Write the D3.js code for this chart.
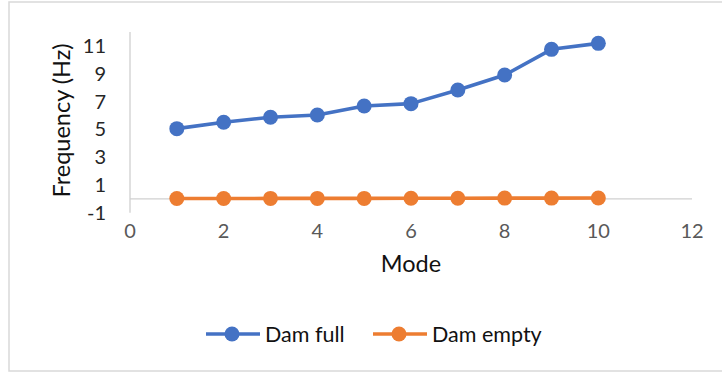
<!DOCTYPE html>
<html>
<head>
<meta charset="utf-8">
<script src="https://cdn.jsdelivr.net/npm/d3@7"></script>
<style>
html,body{margin:0;padding:0;background:#fff;}
svg{display:block;font-family:Lato, "Open Sans", sans-serif;}
</style>
</head>
<body>
<svg id="chart" width="722" height="373"></svg>
<script>
const modes = [1,2,3,4,5,6,7,8,9,10];
const damFull = [5.05,5.51,5.87,6.03,6.68,6.85,7.83,8.91,10.76,11.19];
const damEmpty = [0.02,0.02,0.03,0.03,0.03,0.04,0.04,0.05,0.05,0.06];
const xTicks = [0,2,4,6,8,10,12];
const yTicks = [-1,1,3,5,7,9,11];
const seriesNames = ["Dam full","Dam empty"];
const colors = ["#4472C4","#ED7D31"];

const svg = d3.select("#chart");
const x = d3.scaleLinear().domain([0,12]).range([130,692]);
const y = d3.scaleLinear().domain([-1,12]).range([212.7,32.1]);

// frame
svg.append("rect").attr("x",9).attr("y",2).attr("width",760).attr("height",369)
  .attr("fill","none").attr("stroke","#d9d9d9").attr("stroke-width",1.5);

// axes lines
svg.append("line").attr("x1",x(0)).attr("x2",x(0)).attr("y1",y(12)).attr("y2",y(-1))
  .attr("stroke","#d0d0d0").attr("stroke-width",1.3);
svg.append("line").attr("x1",x(0)).attr("x2",x(12)).attr("y1",y(0)).attr("y2",y(0))
  .attr("stroke","#d0d0d0").attr("stroke-width",1.3);

// y tick labels
svg.append("g").selectAll("text").data(yTicks).join("text")
  .attr("x",106).attr("y",d=>y(d)+7)
  .attr("text-anchor","end").attr("font-size",20).attr("fill","#262626")
  .text(d=>d);

// x tick labels
svg.append("g").selectAll("text").data(xTicks).join("text")
  .attr("x",d=>x(d)).attr("y",238)
  .attr("text-anchor","middle").attr("font-size",20).attr("fill","#595959")
  .text(d=>d);

// axis titles
svg.append("text").attr("x",x(6)).attr("y",272).attr("text-anchor","middle")
  .attr("font-size",23.5).attr("fill","#111").text("Mode");
svg.append("text").attr("transform","translate(69.5,120.5) rotate(-90)")
  .attr("text-anchor","middle").attr("font-size",23.5).attr("fill","#111").text("Frequency (Hz)");

// series
const data = [damFull, damEmpty];
const line = d3.line().x((d,i)=>x(modes[i])).y(d=>y(d));
data.forEach((vals,k)=>{
  svg.append("path").datum(vals).attr("d",line).attr("fill","none")
    .attr("stroke",colors[k]).attr("stroke-width",3.6).attr("stroke-linejoin","round");
  svg.append("g").selectAll("circle").data(vals).join("circle")
    .attr("cx",(d,i)=>x(modes[i])).attr("cy",d=>y(d)).attr("r",7.5)
    .attr("fill",colors[k]);
});

// legend
const legX = [206,373];
const textX = [265,432];
seriesNames.forEach((name,k)=>{
  svg.append("line").attr("x1",legX[k]).attr("x2",legX[k]+54).attr("y1",334).attr("y2",334)
    .attr("stroke",colors[k]).attr("stroke-width",3.6);
  svg.append("circle").attr("cx",legX[k]+26).attr("cy",334).attr("r",7.5).attr("fill",colors[k]);
  svg.append("text").attr("x",textX[k]).attr("y",341.7).attr("font-size",21.5)
    .attr("fill","#111").text(name);
});
</script>
</body>
</html>
